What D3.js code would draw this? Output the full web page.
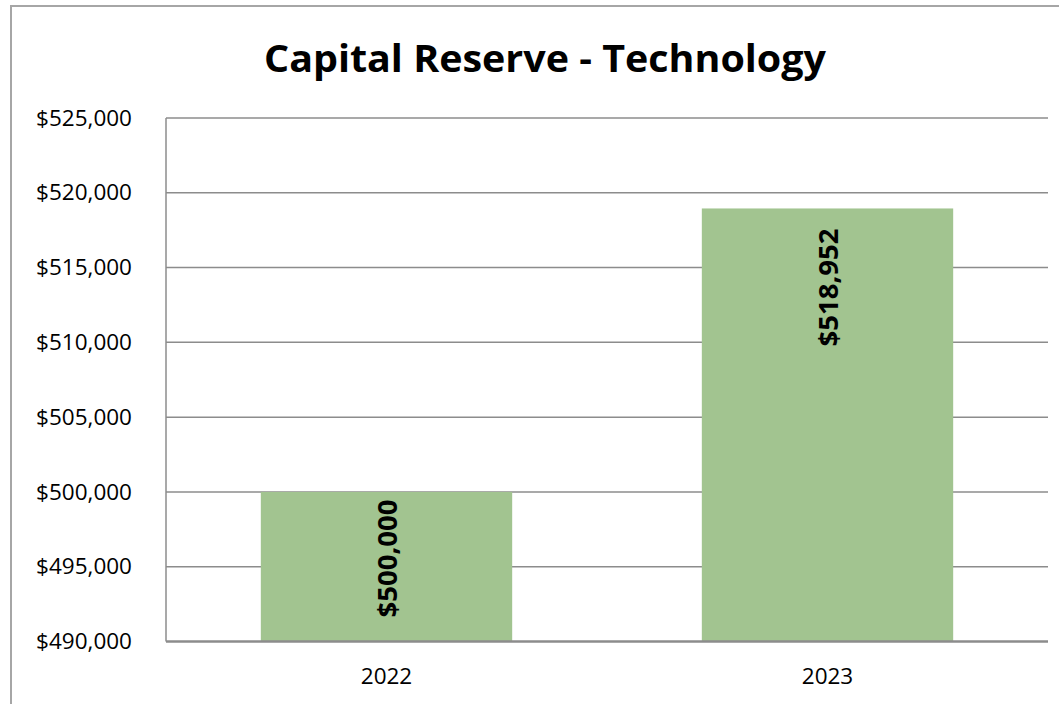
<!DOCTYPE html>
<html>
<head>
<meta charset="utf-8">
<script src="https://cdn.jsdelivr.net/npm/d3@7"></script>
<style>
  html, body { margin: 0; padding: 0; background: #fff; }
  svg { display: block; }
</style>
</head>
<body>
<svg id="chart" width="1059" height="704"></svg>
<script>
const title = "Capital Reserve - Technology";
const categories = ["2022", "2023"];
const values = [500000, 518952];
const yTicks = [490000, 495000, 500000, 505000, 510000, 515000, 520000, 525000];

const W = 1059, H = 704;
const margin = { left: 166, right: 11, top: 118, bottom: 62.5 };
const svg = d3.select("#chart");

// outer chart border
svg.append("rect")
  .attr("x", 11).attr("y", 6)
  .attr("width", 1060).attr("height", 710)
  .attr("fill", "#fff").attr("stroke", "#a6a6a6").attr("stroke-width", 2);

const x = d3.scaleBand().domain(categories)
  .range([margin.left, W - margin.right]).paddingInner(0.43).paddingOuter(0.215);
const y = d3.scaleLinear().domain([490000, 525000])
  .range([H - margin.bottom, margin.top]);

// gridlines
svg.append("g").selectAll("line").data(yTicks.filter(t => t !== 490000)).join("line")
  .attr("x1", margin.left).attr("x2", W - margin.right)
  .attr("y1", d => y(d)).attr("y2", d => y(d))
  .attr("stroke", "#8c8c8c").attr("stroke-width", 1.5);

// left plot border line
svg.append("line")
  .attr("x1", margin.left).attr("x2", margin.left)
  .attr("y1", margin.top).attr("y2", H - margin.bottom)
  .attr("stroke", "#8c8c8c").attr("stroke-width", 1.5);

// y axis labels
const fmt = d3.format("$,.0f");
const yAxis = d3.axisLeft(y).tickValues(yTicks).tickFormat(fmt).tickSize(0).tickPadding(34);
const gy = svg.append("g").attr("transform", `translate(${margin.left},0)`).call(yAxis);
gy.select(".domain").remove();
gy.selectAll("text")
  .attr("font-family", "'Open Sans', sans-serif").attr("font-size", 22.5).attr("fill", "#000");

// bars
svg.append("g").selectAll("rect").data(values).join("rect")
  .attr("x", (d, i) => x(categories[i]))
  .attr("width", x.bandwidth())
  .attr("y", d => y(d))
  .attr("height", d => y(490000) - y(d))
  .attr("fill", "#a2c490");

// x axis
const xAxis = d3.axisBottom(x).tickSize(0).tickPadding(27);
const gx = svg.append("g").attr("transform", `translate(0,${H - margin.bottom})`).call(xAxis);
gx.select(".domain").attr("stroke", "#8c8c8c").attr("stroke-width", 2.5)
  .attr("d", `M${margin.left},0H${W - margin.right}`);
gx.selectAll("text")
  .attr("font-family", "'Open Sans', sans-serif").attr("font-size", 22.5).attr("fill", "#000");

// data labels (rotated, inside end)
const labels = svg.append("g").selectAll("text").data(values).join("text")
  .text(d => fmt(d))
  .attr("font-family", "'Open Sans', sans-serif").attr("font-weight", "bold")
  .attr("font-size", 27.5).attr("fill", "#000")
  .attr("text-anchor", "end").attr("dominant-baseline", "central");
labels.each(function(d, i) {
  const len = this.getComputedTextLength();
  const cx = x(categories[i]) + x.bandwidth() / 2;
  let top = y(d) + 20;
  const maxBottom = y(490000) - 24;
  if (top + len > maxBottom) top = maxBottom - len;
  d3.select(this).attr("transform", `translate(${cx},${top}) rotate(-90)`);
});

// title
svg.append("text")
  .attr("x", 545).attr("y", 72)
  .attr("text-anchor", "middle")
  .attr("font-family", "'Open Sans', sans-serif").attr("font-weight", "bold")
  .attr("font-size", 38).attr("fill", "#000")
  .attr("textLength", 562).attr("lengthAdjust", "spacingAndGlyphs")
  .text(title);
</script>
</body>
</html>
